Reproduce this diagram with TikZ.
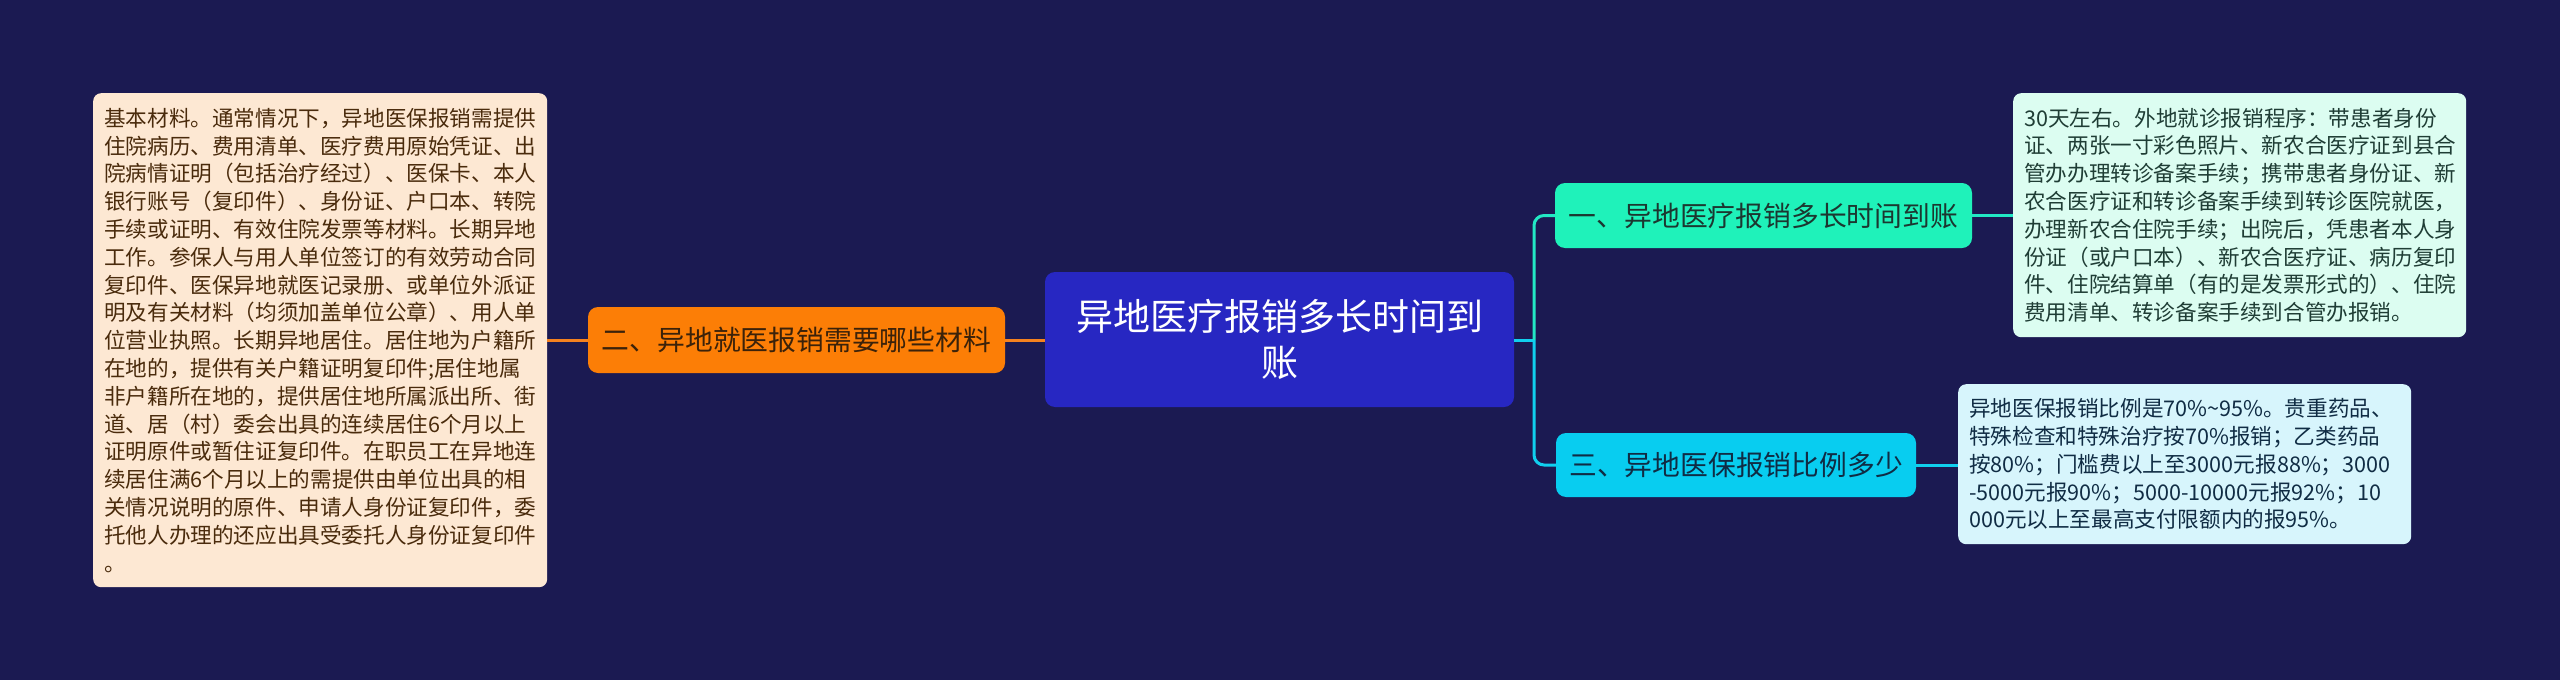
\documentclass[tikz,border=0pt]{standalone}
\usepackage{fontspec}
\newfontfamily\cjk{Noto Sans CJK SC}
\definecolor{bg}{HTML}{1B1A52}
\definecolor{centerblue}{HTML}{2727C2}
\definecolor{orangenode}{HTML}{FC7E06}
\definecolor{tealnode}{HTML}{1FF2BA}
\definecolor{cyannode}{HTML}{08CDF0}
\definecolor{leftfill}{HTML}{FDE8D3}
\definecolor{rightfillA}{HTML}{DCFDF1}
\definecolor{rightfillB}{HTML}{D7F5FC}
\definecolor{lefttext}{HTML}{4A2B0C}
\definecolor{rtextA}{HTML}{1F3D35}
\definecolor{rtextB}{HTML}{102C44}
\definecolor{orangeline}{HTML}{F5821F}
\definecolor{tealline}{HTML}{22E8C4}
\definecolor{cyanline}{HTML}{10CFEE}
\begin{document}
\begin{tikzpicture}[x=1pt,y=-1pt,
  box/.style={rounded corners=8pt, text width=#1, align=left, inner xsep=11pt, inner ysep=0pt, anchor=north west, font=\cjk\fontsize{21.6}{27.8}\selectfont},
  pill/.style={rounded corners=10pt, inner sep=0pt, align=center, font=\cjk\fontsize{27.8}{32}\selectfont},
  conn/.style={line width=3pt}]
\fill[bg] (0,0) rectangle (2560,680);
\useasboundingbox (0,0) rectangle (2560,680);

\node[box=432, fill=leftfill, text=lefttext, minimum height=494] (lb) at (93,93) {基本材料。通常情况下，异地医保报销需提供\\住院病历、费用清单、医疗费用原始凭证、出\\院病情证明（包括治疗经过）、医保卡、本人\\银行账号（复印件）、身份证、户口本、转院\\手续或证明、有效住院发票等材料。长期异地\\工作。参保人与用人单位签订的有效劳动合同\\复印件、医保异地就医记录册、或单位外派证\\明及有关材料（均须加盖单位公章）、用人单\\位营业执照。长期异地居住。居住地为户籍所\\在地的，提供有关户籍证明复印件;居住地属\\非户籍所在地的，提供居住地所属派出所、街\\道、居（村）委会出具的连续居住6个月以上\\证明原件或暂住证复印件。在职员工在异地连\\续居住满6个月以上的需提供由单位出具的相\\关情况说明的原件、申请人身份证复印件，委\\托他人办理的还应出具受委托人身份证复印件\\。};

\node[box=431, fill=rightfillA, text=rtextA, minimum height=244] (rb1) at (2013,93) {30天左右。外地就诊报销程序：带患者身份\\证、两张一寸彩色照片、新农合医疗证到县合\\管办办理转诊备案手续；携带患者身份证、新\\农合医疗证和转诊备案手续到转诊医院就医，\\办理新农合住院手续；出院后，凭患者本人身\\份证（或户口本）、新农合医疗证、病历复印\\件、住院结算单（有的是发票形式的）、住院\\费用清单、转诊备案手续到合管办报销。};

\node[box=431, fill=rightfillB, text=rtextB, minimum height=160] (rb2) at (1958,384) {异地医保报销比例是70\%\textasciitilde95\%。贵重药品、\\特殊检查和特殊治疗按70\%报销；乙类药品\\按80\%；门槛费以上至3000元报88\%；3000\\-5000元报90\%；5000-10000元报92\%；10\\000元以上至最高支付限额内的报95\%。};

\node[pill, fill=orangenode, text=lefttext!80!black, minimum width=417, minimum height=66] (o) at (796.5,340) {二、异地就医报销需要哪些材料};

\node[rounded corners=10pt, inner sep=0pt, fill=centerblue, text=white, minimum width=469, minimum height=135, align=center, font=\cjk\fontsize{37}{46}\selectfont] (c) at (1279.5,339.5) {异地医疗报销多长时间到\\账};

\node[pill, fill=tealnode, text=rtextA!90!black, minimum width=417, minimum height=65] (t) at (1763.5,215.5) {一、异地医疗报销多长时间到账};

\node[pill, fill=cyannode, text=rtextB, minimum width=360, minimum height=64] (cy) at (1736,465) {三、异地医保报销比例多少};

\coordinate (j) at (1534,340);

\draw[conn, orangeline] (lb.east |- o.west) -- (o.west);
\draw[conn, orangeline] (o.east) -- (o.east -| c.west);
\draw[conn, cyanline] (c.east |- j) -- (j);
\draw[conn, tealline, rounded corners=10pt] (j) |- (t.west);
\draw[conn, cyanline, rounded corners=10pt] (j) |- (cy.west);
\draw[conn, tealline] (t.east) -- (t.east -| rb1.west);
\draw[conn, cyanline] (cy.east) -- (cy.east -| rb2.west);
\end{tikzpicture}
\end{document}
